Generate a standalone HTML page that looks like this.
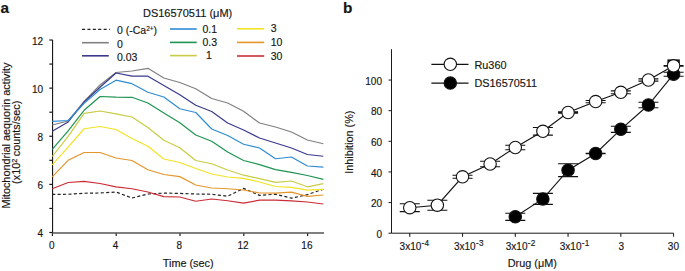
<!DOCTYPE html>
<html><head><meta charset="utf-8"><style>
html,body{margin:0;padding:0;background:#fff;width:685px;height:271px;overflow:hidden}
svg{display:block}
text{font-family:"Liberation Sans", sans-serif;fill:#151515;stroke:#151515;stroke-width:0.15px}
</style></head><body>
<svg width="685" height="271" viewBox="0 0 685 271">
<text x="0.5" y="12.6" font-size="15.4" font-weight="bold">a</text>
<text x="343.1" y="12.6" font-size="15.4" font-weight="bold">b</text>
<path d="M52.55,39.82 V233.2" fill="none" stroke="#1a1a1a" stroke-width="1.15"/>
<path d="M52,232.95 H324" fill="none" stroke="#555" stroke-width="1.5"/>
<path d="M49.3,232.50 H52.5" stroke="#1a1a1a" stroke-width="1.2"/>
<path d="M49.3,208.44 H52.5" stroke="#1a1a1a" stroke-width="1.2"/>
<path d="M49.3,184.38 H52.5" stroke="#1a1a1a" stroke-width="1.2"/>
<path d="M49.3,160.32 H52.5" stroke="#1a1a1a" stroke-width="1.2"/>
<path d="M49.3,136.26 H52.5" stroke="#1a1a1a" stroke-width="1.2"/>
<path d="M49.3,112.20 H52.5" stroke="#1a1a1a" stroke-width="1.2"/>
<path d="M49.3,88.14 H52.5" stroke="#1a1a1a" stroke-width="1.2"/>
<path d="M49.3,64.08 H52.5" stroke="#1a1a1a" stroke-width="1.2"/>
<path d="M49.3,40.02 H52.5" stroke="#1a1a1a" stroke-width="1.2"/>
<text x="43.1" y="237.00" font-size="10" text-anchor="end">4</text>
<text x="43.1" y="188.88" font-size="10" text-anchor="end">6</text>
<text x="43.1" y="140.76" font-size="10" text-anchor="end">8</text>
<text x="43.1" y="92.64" font-size="10" text-anchor="end">10</text>
<text x="43.1" y="44.52" font-size="10" text-anchor="end">12</text>
<path d="M52.40,233.5 V235.9" stroke="#1a1a1a" stroke-width="1.2"/>
<text x="51.70" y="249.3" font-size="10" text-anchor="middle">0</text>
<path d="M116.20,233.5 V235.9" stroke="#1a1a1a" stroke-width="1.2"/>
<text x="115.50" y="249.3" font-size="10" text-anchor="middle">4</text>
<path d="M180.00,233.5 V235.9" stroke="#1a1a1a" stroke-width="1.2"/>
<text x="179.30" y="249.3" font-size="10" text-anchor="middle">8</text>
<path d="M243.80,233.5 V235.9" stroke="#1a1a1a" stroke-width="1.2"/>
<text x="243.10" y="249.3" font-size="10" text-anchor="middle">12</text>
<path d="M307.60,233.5 V235.9" stroke="#1a1a1a" stroke-width="1.2"/>
<text x="306.90" y="249.3" font-size="10" text-anchor="middle">16</text>
<text x="188.2" y="267.2" font-size="10.85" text-anchor="middle">Time (sec)</text>
<text transform="translate(9.5,135.6) rotate(-90)" font-size="10.85" text-anchor="middle">Mitochondrial aequorin activity</text>
<text transform="translate(19.7,142.3) rotate(-90)" font-size="10.85" text-anchor="middle">(x10<tspan font-size="7.2" dy="-2.6">2</tspan><tspan dy="2.6" dx="-0.4"> counts/sec)</tspan></text>
<polyline points="52.20,194.40 68.15,194.25 84.10,193.25 100.05,193.00 116.00,192.00 131.95,198.00 147.90,194.00 163.85,193.10 179.80,193.40 195.75,194.00 211.70,194.30 227.65,196.25 243.60,188.40 259.55,195.40 275.50,194.20 291.45,198.20 307.40,194.60 323.35,189.20" fill="none" stroke="#222222" stroke-width="1.2" stroke-linejoin="round" stroke-dasharray="3.1,2.3"/>
<polyline points="52.20,125.00 68.15,121.00 84.10,101.50 100.05,85.00 116.00,72.50 131.95,71.00 147.90,68.30 163.85,78.00 179.80,82.50 195.75,88.75 211.70,98.50 227.65,103.00 243.60,111.25 259.55,123.00 275.50,127.00 291.45,132.00 307.40,140.00 323.35,143.75" fill="none" stroke="#808080" stroke-width="1.2" stroke-linejoin="round"/>
<polyline points="52.20,131.30 68.15,122.00 84.10,102.00 100.05,87.30 116.00,73.00 131.95,76.20 147.90,76.20 163.85,85.50 179.80,94.75 195.75,105.25 211.70,111.50 227.65,123.00 243.60,130.00 259.55,138.00 275.50,143.00 291.45,148.00 307.40,154.50 323.35,156.25" fill="none" stroke="#3a3a8c" stroke-width="1.2" stroke-linejoin="round"/>
<polyline points="52.20,121.30 68.15,120.50 84.10,103.40 100.05,89.50 116.00,80.20 131.95,83.70 147.90,92.20 163.85,97.00 179.80,108.75 195.75,112.50 211.70,129.00 227.65,135.50 243.60,144.25 259.55,148.00 275.50,158.75 291.45,157.00 307.40,166.00 323.35,167.20" fill="none" stroke="#2e8cd2" stroke-width="1.2" stroke-linejoin="round"/>
<polyline points="52.20,149.30 68.15,130.90 84.10,110.30 100.05,96.50 116.00,97.20 131.95,97.30 147.90,103.00 163.85,113.00 179.80,122.80 195.75,135.00 211.70,141.25 227.65,152.00 243.60,160.50 259.55,164.60 275.50,169.60 291.45,172.30 307.40,175.50 323.35,179.40" fill="none" stroke="#1f9450" stroke-width="1.2" stroke-linejoin="round"/>
<polyline points="52.20,156.50 68.15,136.40 84.10,113.40 100.05,111.00 116.00,113.80 131.95,117.00 147.90,127.50 163.85,140.20 179.80,147.70 195.75,160.50 211.70,163.75 227.65,170.00 243.60,175.20 259.55,178.60 275.50,182.30 291.45,181.00 307.40,186.80 323.35,183.70" fill="none" stroke="#c8cc44" stroke-width="1.2" stroke-linejoin="round"/>
<polyline points="52.20,164.80 68.15,147.20 84.10,128.75 100.05,126.50 116.00,129.50 131.95,138.50 147.90,146.25 163.85,159.00 179.80,162.50 195.75,168.50 211.70,174.00 227.65,177.00 243.60,178.30 259.55,182.00 275.50,186.50 291.45,187.40 307.40,190.20 323.35,189.30" fill="none" stroke="#f2e324" stroke-width="1.2" stroke-linejoin="round"/>
<polyline points="52.20,176.80 68.15,160.30 84.10,152.50 100.05,152.50 116.00,158.00 131.95,160.50 147.90,169.75 163.85,174.50 179.80,176.60 195.75,185.00 211.70,188.00 227.65,188.75 243.60,190.00 259.55,193.00 275.50,193.10 291.45,192.20 307.40,196.40 323.35,195.00" fill="none" stroke="#e4962a" stroke-width="1.2" stroke-linejoin="round"/>
<polyline points="52.20,188.80 68.15,182.50 84.10,181.40 100.05,183.50 116.00,186.80 131.95,188.75 147.90,192.00 163.85,196.60 179.80,197.00 195.75,201.25 211.70,199.00 227.65,200.75 243.60,203.20 259.55,200.10 275.50,200.10 291.45,200.80 307.40,202.00 323.35,204.00" fill="none" stroke="#cc2c36" stroke-width="1.2" stroke-linejoin="round"/>
<text x="187.6" y="17.2" font-size="11" text-anchor="middle">DS16570511 (μM)</text>
<path d="M82,29.4 H109.8" stroke="#222222" stroke-width="1.3" stroke-dasharray="3.1,2.3"/>
<text x="117" y="34.20" font-size="10.5">0 (-Ca<tspan font-size="6.5" dy="-3.5">2+</tspan><tspan dy="3.5">)</tspan></text>
<path d="M82,42.7 H108.8" stroke="#808080" stroke-width="1.6"/>
<text x="117" y="47.50" font-size="10.5">0</text>
<path d="M82,55.8 H108.8" stroke="#3a3a8c" stroke-width="1.6"/>
<text x="117" y="60.60" font-size="10.5">0.03</text>
<path d="M170,29 H196.7" stroke="#2e8cd2" stroke-width="1.6"/>
<text x="202.5" y="32.50" font-size="10.5">0.1</text>
<path d="M170,42.4 H196.7" stroke="#1f9450" stroke-width="1.6"/>
<text x="202.5" y="45.90" font-size="10.5">0.3</text>
<path d="M170,55.6 H196.7" stroke="#c8cc44" stroke-width="1.6"/>
<text x="206" y="59.10" font-size="10.5">1</text>
<path d="M237,28.8 H264.2" stroke="#f2e324" stroke-width="1.6"/>
<text x="270.7" y="32.30" font-size="10.5">3</text>
<path d="M237,42.4 H264.2" stroke="#e4962a" stroke-width="1.6"/>
<text x="270.7" y="45.90" font-size="10.5">10</text>
<path d="M237,56 H264.2" stroke="#cc2c36" stroke-width="1.6"/>
<text x="270.7" y="59.50" font-size="10.5">30</text>
<path d="M391.5,49.2 V233.2 H673.60 V236.7" fill="none" stroke="#1a1a1a" stroke-width="1"/>
<path d="M388.5,233.2 H391.5" stroke="#1a1a1a" stroke-width="1"/>
<path d="M388.5,202.57 H391.5" stroke="#1a1a1a" stroke-width="1"/>
<path d="M388.5,171.94 H391.5" stroke="#1a1a1a" stroke-width="1"/>
<path d="M388.5,141.31 H391.5" stroke="#1a1a1a" stroke-width="1"/>
<path d="M388.5,110.68 H391.5" stroke="#1a1a1a" stroke-width="1"/>
<path d="M388.5,80.05 H391.5" stroke="#1a1a1a" stroke-width="1"/>
<text x="382" y="237.80" font-size="10" text-anchor="end">0</text>
<text x="382" y="207.17" font-size="10" text-anchor="end">20</text>
<text x="382" y="176.54" font-size="10" text-anchor="end">40</text>
<text x="382" y="145.91" font-size="10" text-anchor="end">60</text>
<text x="382" y="115.28" font-size="10" text-anchor="end">80</text>
<text x="382" y="84.65" font-size="10" text-anchor="end">100</text>
<path d="M409.75,233.2 V236.7" stroke="#1a1a1a" stroke-width="1.1"/>
<text x="399.60" y="249.8" font-size="10">3x10<tspan font-size="8.2" dy="-3.6" dx="0.3" letter-spacing="0.3">-4</tspan></text>
<path d="M462.52,233.2 V236.7" stroke="#1a1a1a" stroke-width="1.1"/>
<text x="454.00" y="249.8" font-size="10">3x10<tspan font-size="8.2" dy="-3.6" dx="0.3" letter-spacing="0.3">-3</tspan></text>
<path d="M515.29,233.2 V236.7" stroke="#1a1a1a" stroke-width="1.1"/>
<text x="505.80" y="249.8" font-size="10">3x10<tspan font-size="8.2" dy="-3.6" dx="0.3" letter-spacing="0.3">-2</tspan></text>
<path d="M568.06,233.2 V236.7" stroke="#1a1a1a" stroke-width="1.1"/>
<text x="559.80" y="249.8" font-size="10">3x10<tspan font-size="8.2" dy="-3.6" dx="0.3" letter-spacing="0.3">-1</tspan></text>
<path d="M620.83,233.2 V236.7" stroke="#1a1a1a" stroke-width="1.1"/>
<text x="621.33" y="249.8" font-size="10" text-anchor="middle">3</text>
<text x="673.40" y="249.8" font-size="10" text-anchor="middle">30</text>
<text x="532.3" y="267.2" font-size="10.85" text-anchor="middle">Drug (μM)</text>
<text transform="translate(352.5,142.2) rotate(-90)" font-size="10.85" text-anchor="middle">Inhibition (%)</text>
<polyline points="515.29,216.80 542.88,198.90 568.06,170.20 595.65,153.50 620.83,129.30 648.42,105.00 673.60,74.20" fill="none" stroke="#111" stroke-width="1.1"/>
<path d="M505.29,213.20 H525.29 M505.29,220.40 H525.29 M515.29,213.20 V220.40" stroke="#111" stroke-width="1.1"/>
<path d="M532.88,193.40 H552.88 M532.88,204.40 H552.88 M542.88,193.40 V204.40" stroke="#111" stroke-width="1.1"/>
<path d="M558.06,163.80 H578.06 M558.06,176.60 H578.06 M568.06,163.80 V176.60" stroke="#111" stroke-width="1.1"/>
<path d="M585.65,153.20 H605.65 M585.65,153.80 H605.65 M595.65,153.20 V153.80" stroke="#111" stroke-width="1.1"/>
<path d="M610.83,126.20 H630.83 M610.83,132.40 H630.83 M620.83,126.20 V132.40" stroke="#111" stroke-width="1.1"/>
<path d="M638.42,102.30 H658.42 M638.42,107.70 H658.42 M648.42,102.30 V107.70" stroke="#111" stroke-width="1.1"/>
<path d="M663.60,72.20 H683.60 M663.60,76.20 H683.60 M673.60,72.20 V76.20" stroke="#111" stroke-width="1.1"/>
<circle cx="515.29" cy="216.80" r="6.2" fill="#000" stroke="#111" stroke-width="1.1"/>
<circle cx="542.88" cy="198.90" r="6.2" fill="#000" stroke="#111" stroke-width="1.1"/>
<circle cx="568.06" cy="170.20" r="6.2" fill="#000" stroke="#111" stroke-width="1.1"/>
<circle cx="595.65" cy="153.50" r="6.2" fill="#000" stroke="#111" stroke-width="1.1"/>
<circle cx="620.83" cy="129.30" r="6.2" fill="#000" stroke="#111" stroke-width="1.1"/>
<circle cx="648.42" cy="105.00" r="6.2" fill="#000" stroke="#111" stroke-width="1.1"/>
<circle cx="673.60" cy="74.20" r="6.2" fill="#000" stroke="#111" stroke-width="1.1"/>
<rect x="667.40" y="59.4" width="12.4" height="5" fill="#111"/>
<polyline points="409.75,207.70 437.34,205.20 462.52,176.80 490.11,164.00 515.29,147.50 542.88,131.30 568.06,112.50 595.65,101.60 620.83,92.30 648.42,80.00 673.60,65.80" fill="none" stroke="#111" stroke-width="1.1"/>
<path d="M399.75,203.80 H419.75 M399.75,211.60 H419.75 M409.75,203.80 V211.60" stroke="#111" stroke-width="1.1"/>
<path d="M427.34,200.20 H447.34 M427.34,210.20 H447.34 M437.34,200.20 V210.20" stroke="#111" stroke-width="1.1"/>
<path d="M452.52,175.30 H472.52 M452.52,178.30 H472.52 M462.52,175.30 V178.30" stroke="#111" stroke-width="1.1"/>
<path d="M480.11,161.20 H500.11 M480.11,166.80 H500.11 M490.11,161.20 V166.80" stroke="#111" stroke-width="1.1"/>
<path d="M505.29,145.30 H525.29 M505.29,149.70 H525.29 M515.29,145.30 V149.70" stroke="#111" stroke-width="1.1"/>
<path d="M532.88,127.50 H552.88 M532.88,135.10 H552.88 M542.88,127.50 V135.10" stroke="#111" stroke-width="1.1"/>
<path d="M558.06,111.90 H578.06 M558.06,113.10 H578.06 M568.06,111.90 V113.10" stroke="#111" stroke-width="1.1"/>
<path d="M585.65,100.50 H605.65 M585.65,102.70 H605.65 M595.65,100.50 V102.70" stroke="#111" stroke-width="1.1"/>
<path d="M610.83,90.90 H630.83 M610.83,93.70 H630.83 M620.83,90.90 V93.70" stroke="#111" stroke-width="1.1"/>
<path d="M638.42,78.90 H658.42 M638.42,81.10 H658.42 M648.42,78.90 V81.10" stroke="#111" stroke-width="1.1"/>
<path d="M663.60,65.50 H683.60 M663.60,66.10 H683.60 M673.60,65.50 V66.10" stroke="#111" stroke-width="1.1"/>
<circle cx="409.75" cy="207.70" r="6.2" fill="#fff" stroke="#111" stroke-width="1.1"/>
<circle cx="437.34" cy="205.20" r="6.2" fill="#fff" stroke="#111" stroke-width="1.1"/>
<circle cx="462.52" cy="176.80" r="6.2" fill="#fff" stroke="#111" stroke-width="1.1"/>
<circle cx="490.11" cy="164.00" r="6.2" fill="#fff" stroke="#111" stroke-width="1.1"/>
<circle cx="515.29" cy="147.50" r="6.2" fill="#fff" stroke="#111" stroke-width="1.1"/>
<circle cx="542.88" cy="131.30" r="6.2" fill="#fff" stroke="#111" stroke-width="1.1"/>
<circle cx="568.06" cy="112.50" r="6.2" fill="#fff" stroke="#111" stroke-width="1.1"/>
<circle cx="595.65" cy="101.60" r="6.2" fill="#fff" stroke="#111" stroke-width="1.1"/>
<circle cx="620.83" cy="92.30" r="6.2" fill="#fff" stroke="#111" stroke-width="1.1"/>
<circle cx="648.42" cy="80.00" r="6.2" fill="#fff" stroke="#111" stroke-width="1.1"/>
<circle cx="673.60" cy="65.80" r="6.2" fill="#fff" stroke="#111" stroke-width="1.1"/>
<path d="M431.4,64.4 H468.5 M431.4,83.1 H468.5" stroke="#111" stroke-width="1.1"/>
<circle cx="450.3" cy="64.3" r="6.2" fill="#fff" stroke="#111" stroke-width="1.1"/>
<circle cx="450.3" cy="83.1" r="6.2" fill="#000" stroke="#111" stroke-width="1.1"/>
<text x="474.5" y="68.8" font-size="10.85">Ru360</text>
<text x="474.5" y="87.4" font-size="10.85">DS16570511</text>
</svg></body></html>
